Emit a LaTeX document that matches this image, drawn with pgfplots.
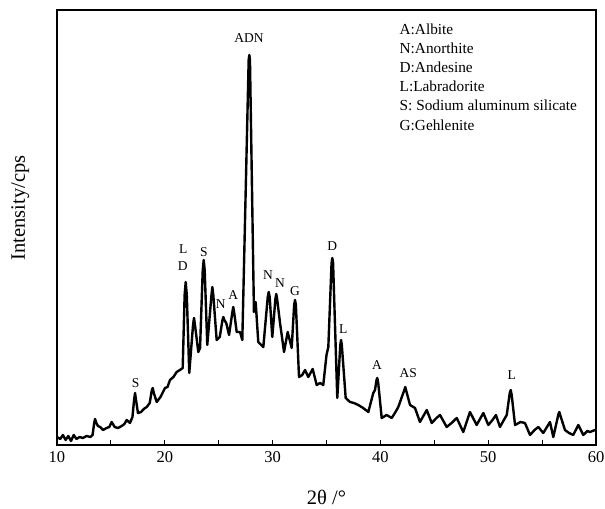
\documentclass[border=0pt]{standalone}
\usepackage{pgfplots}
\pgfplotsset{compat=1.18}
\usepackage{fontspec}
\setmainfont{Liberation Serif}

% XRD pattern: 2theta (deg) vs. intensity (arbitrary)
\pgfplotstableread{
x y
10.00 8
10.30 6
10.55 10
10.80 5
11.05 9
11.30 4
11.55 10
11.80 6
12.10 8
12.40 7
12.75 9
13.10 8
13.30 10
13.45 22
13.53 26
13.65 22
13.80 19
14.00 18
14.27 15
14.60 17
14.85 18
15.07 23
15.35 18
15.66 17
16.00 19
16.25 21
16.47 25
16.77 22
17.00 28
17.15 45
17.24 52
17.33 45
17.51 32
17.80 33
18.05 36
18.32 38
18.60 42
18.80 55
18.88 57
18.98 52
19.25 43
19.60 48
20.02 57
20.25 58
20.48 65
20.80 68
21.10 73
21.40 75
21.66 77
21.84 150
21.94 163
22.04 150
22.27 72
22.62 120
22.71 127
22.80 120
23.11 93
23.27 97
23.52 175
23.61 185
23.70 175
23.94 100
24.33 150
24.41 158
24.50 150
24.81 105
25.10 108
25.35 125
25.43 128
25.52 125
25.70 122
25.96 110
26.27 133
26.35 138
26.43 133
26.67 113
26.98 113
27.19 105
27.78 385
27.84 390
27.90 385
28.27 133
28.43 143
28.67 103
29.14 98
29.55 148
29.64 153
29.73 148
29.97 108
30.26 146
30.34 151
30.42 146
30.69 122
31.06 93
31.40 113
31.77 97
32.00 140
32.08 145
32.16 140
32.45 68
32.75 70
33.01 75
33.31 68
33.72 76
34.09 60
34.40 62
34.70 60
35.00 90
35.17 98
35.47 182
35.54 187
35.61 182
36.00 47
36.28 100
36.35 105
36.42 100
36.78 47
37.18 43
37.55 42
37.95 40
38.40 37
38.88 33
39.34 52
39.50 55
39.64 65
39.71 67
39.80 62
40.12 27
40.58 30
41.05 27
41.40 33
41.66 38
42.22 55
42.31 58
42.40 54
42.75 40
43.21 37
43.67 23
44.30 35
44.76 22
45.20 27
45.53 30
46.15 18
46.60 22
47.08 27
47.69 13
48.31 33
48.93 20
49.55 32
50.01 20
50.40 25
50.72 30
51.09 18
51.40 24
51.72 30
52.00 52
52.09 55
52.18 50
52.49 20
53.00 23
53.41 22
53.88 10
54.30 15
54.65 18
55.11 12
55.73 23
56.04 8
56.52 31
56.60 33
56.68 30
57.12 15
57.50 12
57.89 10
58.36 20
58.82 10
59.20 14
59.44 13
59.91 15
60.00 14
}\xrd

\begin{document}
\begin{tikzpicture}
\useasboundingbox (-57bp,-64bp) rectangle (548bp,445bp);
\begin{axis}[
  scale only axis,
  width=539bp, height=435bp,
  xmin=10, xmax=60, ymin=0, ymax=435,
  xtick={10,20,...,60},
  minor xtick={15,25,...,55},
  ytick=\empty,
  xtick pos=bottom,
  tick align=inside,
  major tick length=5bp,
  minor tick length=5bp,
  axis line style={line width=1.6bp},
  every tick/.style={black, line width=1.2bp},
  tick label style={font=\fontsize{16.5bp}{18bp}\selectfont},
  /pgf/number format/assume math mode=true,
  xticklabel style={yshift=-3bp},
  xlabel={2θ /°},
  ylabel={Intensity/cps},
  label style={font=\fontsize{20.5bp}{23bp}\selectfont},
  xlabel style={at={(axis description cs:0.5,0)}, anchor=center, yshift=-52bp},
  ylabel style={at={(axis description cs:-0.068,0.545)}, anchor=center},
  clip=false,
]
\addplot[black, line width=2.4bp, line join=round] table[x=x, y=y] {\xrd};

\begin{scope}[every node/.style={font=\fontsize{13.5bp}{15bp}\selectfont, inner sep=0pt}]
\node at (axis cs:17.29,62) {S};
\node at (axis cs:21.72,196) {L};
\node at (axis cs:21.66,179) {D};
\node at (axis cs:23.63,193) {S};
\node at (axis cs:25.18,141) {N};
\node at (axis cs:26.35,150) {A};
\node at (axis cs:27.81,407) {ADN};
\node at (axis cs:29.57,170) {N};
\node at (axis cs:30.69,162) {N};
\node at (axis cs:32.08,154) {G};
\node at (axis cs:35.54,199) {D};
\node at (axis cs:36.56,116) {L};
\node at (axis cs:39.68,80) {A};
\node at (axis cs:42.59,72) {AS};
\node at (axis cs:52.18,70) {L};
\end{scope}

\begin{scope}[every node/.style={font=\fontsize{15.3bp}{17bp}\selectfont, inner sep=0pt, anchor=west}]
\node at (axis cs:41.77,415.7) {A:Albite};
\node at (axis cs:41.77,396.7) {N:Anorthite};
\node at (axis cs:41.77,377.7) {D:Andesine};
\node at (axis cs:41.77,358.7) {L:Labradorite};
\node at (axis cs:41.77,339.7) {S: Sodium aluminum silicate};
\node at (axis cs:41.77,320.0) {G:Gehlenite};
\end{scope}
\end{axis}
\end{tikzpicture}
\end{document}
